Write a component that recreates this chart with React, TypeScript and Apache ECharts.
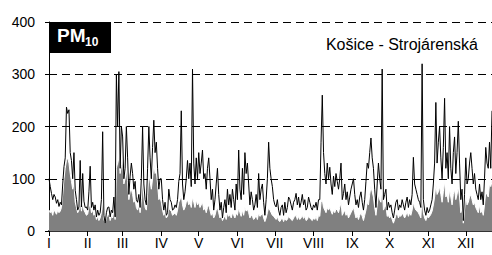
import React, { useEffect, useRef } from "react";
import * as echarts from "echarts";

const monthLabels = ["I", "II", "III", "IV", "V", "VI", "VII", "VIII", "IX", "X", "XI", "XII"];

const blackJan = [100, 85, 72, 60, 70, 65, 53, 60, 47, 55, 50, 90, 123, 140, 237, 225, 232, 150, 135, 100, 150, 78, 60, 40, 46, 135, 46, 110, 57, 45, 46];
const blackFeb = [40, 75, 124, 45, 55, 40, 50, 27, 40, 30, 35, 60, 190, 30, 15, 35, 45, 46, 27, 40, 35, 65, 27, 300, 200, 305, 120, 200];
const blackMar = [180, 100, 120, 200, 140, 70, 105, 130, 110, 80, 95, 60, 55, 70, 45, 100, 200, 90, 60, 50, 120, 200, 140, 100, 160, 212, 150, 170, 120, 80, 100];
const blackApr = [100, 60, 40, 55, 30, 35, 80, 60, 55, 40, 42, 50, 45, 60, 95, 110, 230, 90, 60, 75, 100, 135, 100, 130, 85, 310, 130, 90, 140, 100];
const blackMay = [150, 110, 130, 155, 100, 110, 80, 120, 140, 100, 60, 80, 40, 60, 90, 120, 70, 40, 55, 25, 45, 60, 35, 80, 50, 70, 45, 80, 60, 40, 90];
const blackJun = [60, 155, 80, 60, 120, 70, 150, 110, 130, 90, 50, 75, 60, 40, 50, 70, 45, 110, 60, 80, 90, 55, 30, 60, 100, 170, 120, 100, 85, 60];
const blackJul = [50, 46, 60, 40, 30, 45, 50, 30, 55, 35, 45, 65, 60, 50, 40, 55, 60, 72, 50, 65, 45, 55, 70, 50, 60, 40, 45, 65, 55, 45, 40];
const blackAug = [50, 45, 55, 40, 60, 60, 170, 260, 150, 110, 90, 130, 100, 122, 90, 70, 105, 85, 110, 95, 80, 100, 130, 60, 72, 90, 60, 75, 50, 65, 80];
const blackSep = [90, 100, 70, 50, 60, 45, 65, 75, 55, 40, 60, 95, 130, 120, 150, 178, 140, 120, 80, 45, 90, 130, 100, 80, 310, 60, 70, 80, 40, 55];
const blackOct = [45, 50, 35, 25, 40, 55, 60, 40, 50, 45, 60, 50, 40, 55, 65, 45, 60, 50, 70, 141, 90, 80, 70, 60, 55, 45, 320, 60, 40, 30, 45];
const blackNov = [35, 40, 50, 60, 90, 130, 246, 130, 170, 200, 140, 100, 160, 254, 120, 150, 100, 200, 120, 90, 150, 180, 110, 150, 210, 130, 60, 80, 20, 70];
const blackDec = [140, 90, 100, 130, 150, 120, 90, 110, 80, 70, 60, 90, 60, 75, 50, 100, 160, 130, 120, 170, 120, 230];

const greyJan = [40, 35, 38, 30, 42, 36, 32, 40, 35, 38, 45, 70, 100, 120, 135, 140, 130, 110, 95, 80, 90, 55, 45, 35, 40, 60, 38, 55, 40, 35, 30];
const greyFeb = [32, 45, 55, 35, 40, 30, 35, 22, 28, 20, 25, 35, 60, 22, 15, 25, 30, 32, 20, 28, 25, 40, 22, 120, 130, 140, 110, 125];
const greyMar = [140, 90, 100, 120, 95, 60, 75, 80, 70, 55, 60, 45, 40, 50, 35, 60, 100, 65, 45, 40, 70, 110, 95, 80, 100, 130, 110, 115, 90, 60, 65];
const greyApr = [55, 40, 30, 35, 25, 28, 45, 40, 38, 30, 32, 35, 30, 40, 55, 60, 70, 50, 40, 45, 55, 60, 50, 55, 45, 65, 55, 45, 60, 50];
const greyMay = [55, 45, 50, 55, 40, 45, 35, 45, 50, 40, 30, 35, 25, 30, 40, 45, 35, 25, 30, 20, 25, 30, 22, 35, 28, 32, 25, 35, 30, 25, 35];
const greyJun = [30, 45, 35, 28, 40, 30, 45, 38, 42, 35, 25, 30, 28, 22, 25, 30, 22, 35, 28, 30, 35, 25, 18, 25, 35, 45, 40, 35, 30, 28];
const greyJul = [25, 22, 28, 20, 18, 22, 25, 18, 25, 20, 22, 28, 25, 22, 20, 25, 28, 30, 22, 28, 22, 25, 30, 24, 28, 20, 22, 28, 25, 22, 20];
const greyAug = [25, 22, 28, 20, 30, 28, 55, 60, 45, 40, 35, 45, 40, 45, 38, 32, 40, 35, 42, 40, 35, 45, 55, 30, 35, 40, 30, 35, 25, 30, 35];
const greySep = [40, 45, 35, 25, 30, 22, 30, 35, 28, 20, 30, 40, 55, 50, 70, 85, 75, 65, 45, 30, 50, 70, 60, 55, 90, 40, 45, 50, 28, 30];
const greyOct = [25, 30, 22, 15, 22, 30, 35, 25, 30, 28, 35, 30, 25, 30, 38, 28, 35, 30, 40, 55, 45, 40, 38, 35, 30, 25, 70, 35, 25, 20, 28];
const greyNov = [25, 28, 32, 38, 50, 65, 90, 70, 75, 85, 70, 55, 75, 95, 65, 70, 55, 80, 65, 50, 70, 80, 60, 70, 85, 65, 35, 45, 15, 40];
const greyDec = [70, 50, 55, 65, 70, 60, 50, 55, 45, 40, 35, 50, 35, 40, 30, 50, 75, 70, 65, 90, 85, 95];

const blackMonths = [blackJan, blackFeb, blackMar, blackApr, blackMay, blackJun, blackJul, blackAug, blackSep, blackOct, blackNov, blackDec];
const greyMonths = [greyJan, greyFeb, greyMar, greyApr, greyMay, greyJun, greyJul, greyAug, greySep, greyOct, greyNov, greyDec];

const yTicks = [0, 100, 200, 300, 400];

export default function App() {
  const ref = useRef<HTMLDivElement>(null);
  useEffect(() => {
    if (!ref.current) return;
    const chart = echarts.init(ref.current, null, { renderer: "svg" });
    const blackData: number[] = ([] as number[]).concat(...blackMonths);
    const greyData: number[] = ([] as number[]).concat(...greyMonths);
    const monthStart = new Map<number, string>();
    let acc = 0;
    blackMonths.forEach((m, i) => {
      monthStart.set(acc, monthLabels[i]);
      acc += m.length;
    });
    const days = blackData.map((_, i) => String(i));
    const isStart = (idx: number) => monthStart.has(idx);
    const font = "'Liberation Sans', Arial, sans-serif";
    chart.setOption({
      animation: false,
      grid: { left: 49, right: 0, top: 22, bottom: 24, containLabel: false },
      xAxis: {
        type: "category",
        data: days,
        boundaryGap: false,
        axisLine: { show: true, lineStyle: { color: "#333", width: 2 } },
        axisTick: { show: true, interval: (idx: number) => isStart(idx), length: 5, lineStyle: { color: "#000", width: 1 } },
        axisLabel: {
          interval: (idx: number) => isStart(idx),
          formatter: (_v: string, idx: number) => monthStart.get(idx) || "",
          color: "#000",
          fontSize: 14,
          fontFamily: font,
          margin: 5,
        },
        splitLine: { show: false },
      },
      yAxis: {
        type: "value",
        min: yTicks[0],
        max: yTicks[yTicks.length - 1],
        interval: 100,
        axisLine: { show: true, lineStyle: { color: "#000", width: 1 } },
        axisTick: { show: true, length: 4, lineStyle: { color: "#000" } },
        axisLabel: { color: "#000", fontSize: 14, fontFamily: font, margin: 14 },
        splitLine: { show: true, lineStyle: { color: "#000", type: [8, 5], width: 1 } },
      },
      series: [
        {
          type: "line",
          data: greyData,
          symbol: "none",
          lineStyle: { color: "#ffffff", width: 1 },
          areaStyle: { color: "#808080", opacity: 1 },
          z: 2,
        },
        {
          type: "line",
          data: blackData,
          symbol: "none",
          lineStyle: { color: "#000", width: 1 },
          z: 3,
        },
      ],
      graphic: [
        { type: "rect", left: 49, top: 22, shape: { width: 62, height: 31 }, style: { fill: "#000" }, z: 100 },
        { type: "text", left: 57, top: 26, style: { text: "PM", fill: "#fff", fontSize: 19, fontWeight: "bold", fontFamily: font }, z: 101 },
        { type: "text", left: 85, top: 36, style: { text: "10", fill: "#fff", fontSize: 12, fontWeight: "bold", fontFamily: font }, z: 101 },
        { type: "text", right: 14, top: 36, style: { text: "Košice - Strojárenská", fill: "#000", fontSize: 16, fontFamily: font }, z: 101 },
      ],
    });
    return () => chart.dispose();
  }, []);
  return <div ref={ref} style={{ width: 492, height: 255, position: "absolute", left: 0, top: 0 }} />;
}
